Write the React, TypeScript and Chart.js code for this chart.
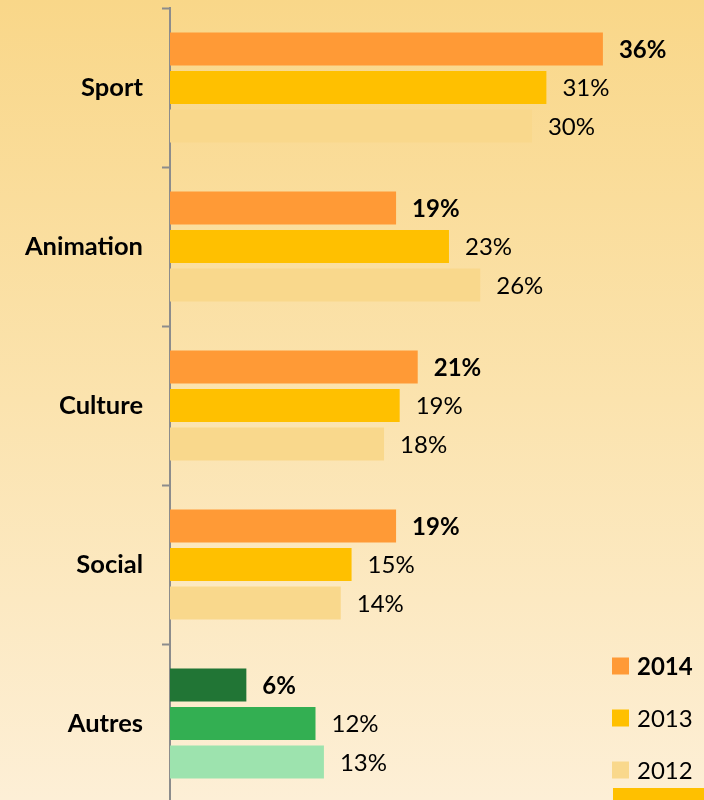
import React, { useEffect, useRef } from "react";
import { Chart, registerables } from "chart.js";

Chart.register(...registerables);

const categories = ["Sport", "Animation", "Culture", "Social", "Autres"];
const seriesLabels = ["2014", "2013", "2012"];
const values2014 = [36.0, 18.8, 20.6, 18.8, 6.35];
const values2013 = [31.3, 23.2, 19.1, 15.1, 12.1];
const values2012 = [30.1, 25.8, 17.8, 14.2, 12.8];
const valueLabels2014 = ["36%", "19%", "21%", "19%", "6%"];
const valueLabels2013 = ["31%", "23%", "19%", "15%", "12%"];
const valueLabels2012 = ["30%", "26%", "18%", "14%", "13%"];

const colors2014 = ["#FF9A36", "#FF9A36", "#FF9A36", "#FF9A36", "#217535"];
const colors2013 = ["#FFC000", "#FFC000", "#FFC000", "#FFC000", "#33AF52"];
const colors2012 = ["#F9D88C", "#F9D88C", "#F9D88C", "#F9D88C", "#9DE3AE"];
const legendColors = ["#FF9A36", "#FFC000", "#F9D88C"];

const FONT = "Lato, 'Liberation Sans', sans-serif";
const W = 704;
const H = 806;

const backgroundPlugin = {
  id: "bgGradient",
  beforeDraw(chart: any) {
    const ctx = chart.ctx;
    ctx.save();
    const g = ctx.createLinearGradient(0, 0, 0, 800);
    g.addColorStop(0, "#F9D789");
    g.addColorStop(0.5, "#FBE3AE");
    g.addColorStop(1, "#FDEFD6");
    ctx.fillStyle = g;
    ctx.fillRect(0, 0, chart.width, chart.height);
    ctx.restore();
  },
};

const valueLabelPlugin = {
  id: "valueLabels",
  afterDatasetsDraw(chart: any) {
    const ctx = chart.ctx;
    const all = [valueLabels2014, valueLabels2013, valueLabels2012];
    ctx.save();
    chart.data.datasets.forEach((ds: any, di: number) => {
      const meta = chart.getDatasetMeta(di);
      meta.data.forEach((bar: any, i: number) => {
        ctx.font = (di === 0 ? "bold " : "") + "24px " + FONT;
        ctx.fillStyle = "#000000";
        ctx.textAlign = "left";
        ctx.textBaseline = "middle";
        ctx.fillText(all[di][i], bar.x + 16, bar.y + 1);
      });
    });
    ctx.restore();
  },
};

const legendPlugin = {
  id: "customLegend",
  afterDraw(chart: any) {
    const ctx = chart.ctx;
    ctx.save();
    const ys = [666, 718, 770];
    seriesLabels.forEach((lab, i) => {
      ctx.fillStyle = legendColors[i];
      ctx.fillRect(612, ys[i] - 8.5, 17, 17);
      ctx.font = (i === 0 ? "bold " : "") + "24px " + FONT;
      ctx.fillStyle = "#000000";
      ctx.textAlign = "left";
      ctx.textBaseline = "middle";
      ctx.fillText(lab, 637, ys[i] + 1);
    });
    ctx.fillStyle = "#FFC000";
    ctx.fillRect(613, 788, 91, 12);
    ctx.restore();
  },
};

export default function App() {
  const ref = useRef<HTMLCanvasElement | null>(null);
  useEffect(() => {
    document.body.style.margin = "0";
    if (!ref.current) return;
    const chart = new Chart(ref.current, {
      type: "bar",
      data: {
        labels: categories,
        datasets: [
          { label: seriesLabels[0], data: values2014, backgroundColor: colors2014, categoryPercentage: 0.726, barPercentage: 0.86 },
          { label: seriesLabels[1], data: values2013, backgroundColor: colors2013, categoryPercentage: 0.726, barPercentage: 0.86 },
          { label: seriesLabels[2], data: values2012, backgroundColor: colors2012, categoryPercentage: 0.726, barPercentage: 0.86 },
        ],
      },
      options: {
        indexAxis: "y",
        responsive: false,
        maintainAspectRatio: false,
        animation: false,
        devicePixelRatio: 1,
        layout: { autoPadding: false, padding: { top: 8, right: 53, bottom: 3, left: 0 } },
        plugins: { legend: { display: false }, tooltip: { enabled: false } },
        scales: {
          x: { display: false, min: 0, max: 40 },
          y: {
            offset: true,
            afterFit(scale: any) {
              scale.width = 170;
              scale.paddingTop = 0;
              scale.paddingBottom = 0;
            },
            grid: {
              offset: true,
              drawOnChartArea: false,
              drawTicks: true,
              tickLength: 8,
              tickWidth: 2,
              tickColor: "#8C8C8C",
            },
            border: { display: true, color: "#8C8C8C", width: 2 },
            ticks: {
              padding: 19,
              color: "#000000",
              font: { family: FONT, size: 25.5, weight: "bold" },
            },
          },
        },
      },
      plugins: [backgroundPlugin, valueLabelPlugin, legendPlugin],
    } as any);
    return () => chart.destroy();
  }, []);
  return (
    <div
      style={{
        position: "fixed",
        left: 0,
        top: 0,
        width: W,
        height: 800,
        overflow: "hidden",
        background: "#FBE3AE",
      }}
    >
      <canvas ref={ref} width={W} height={H} style={{ display: "block", width: W, height: H }} />
    </div>
  );
}
